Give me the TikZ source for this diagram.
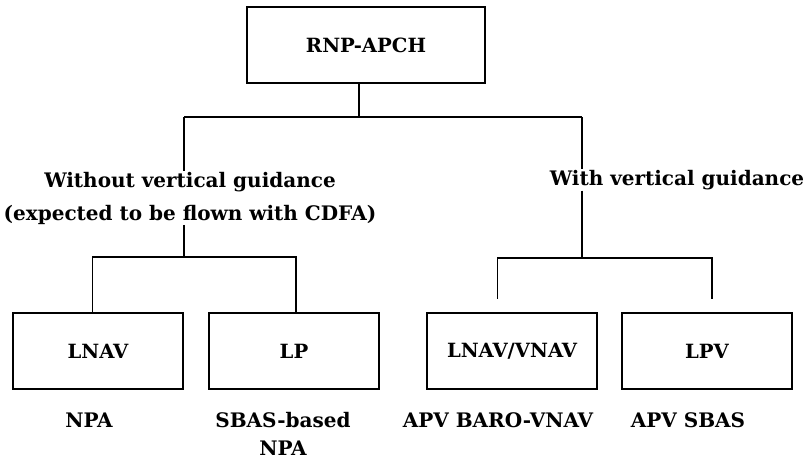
\documentclass[tikz,border=0pt]{standalone}
\usepackage{fontspec}
\setmainfont{DejaVu Serif}
\usetikzlibrary{positioning}

\begin{document}
\begin{tikzpicture}[x=0.75pt,y=-0.75pt,line width=1.1pt,
  mode/.style={draw,line width=1.5pt,minimum width=128pt,minimum height=57.5pt,inner sep=0pt,font=\bfseries\fontsize{14.7}{17}\selectfont},
  lab/.style={align=center,inner sep=0pt,font=\bfseries\fontsize{15}{21}\selectfont}]
\useasboundingbox (0,0) rectangle (806,459);
\node[mode, minimum width=178.5pt](apch) at (366,45){RNP-APCH};
\node[lab, font=\bfseries\fontsize{15}{24.75}\selectfont](wo) at (190,198){Without vertical guidance\\(expected to be flown with CDFA)};
\node[lab](wi) at (677,180){With vertical guidance};
\node[mode](lnav) at (98,351){LNAV};
\node[mode](lp) at (294,351){LP};
\node[mode](vnav) at (512,351){LNAV/VNAV};
\node[mode](lpv) at (707,351){LPV};
\node[lab](npa) at (89,420){NPA};
\node[lab](sbasnpa) at (283,434){SBAS-based\\NPA};
\node[lab](baro) at (498,420){APV BARO-VNAV};
\node[lab](sbas) at (688,420){APV SBAS};
\coordinate (top) at (359,117);
\coordinate (lb) at (184,117);
\coordinate (rb) at (582,117);
\coordinate (lsplit) at (184,257);
\coordinate (rsplit) at (582,258);
\draw (apch.south -| top) -- (top);
\draw (lb) -- (rb);
\draw (lb) -- (lb |- wo.north);
\draw (rb) -- (rb |- wi.north);
\draw (wo.south -| lsplit) -- (lsplit);
\draw (wi.south -| rsplit) -- (rsplit);
\draw ([xshift=-5.5*0.75pt]lnav.north) |- (lsplit) -| ([xshift=2*0.75pt]lp.north);
\draw[shorten <=9.75pt] ([xshift=-14.5*0.75pt]vnav.north) |- (rsplit);
\draw[shorten >=9.75pt] (rsplit) -| ([xshift=5*0.75pt]lpv.north);
\end{tikzpicture}
\end{document}
